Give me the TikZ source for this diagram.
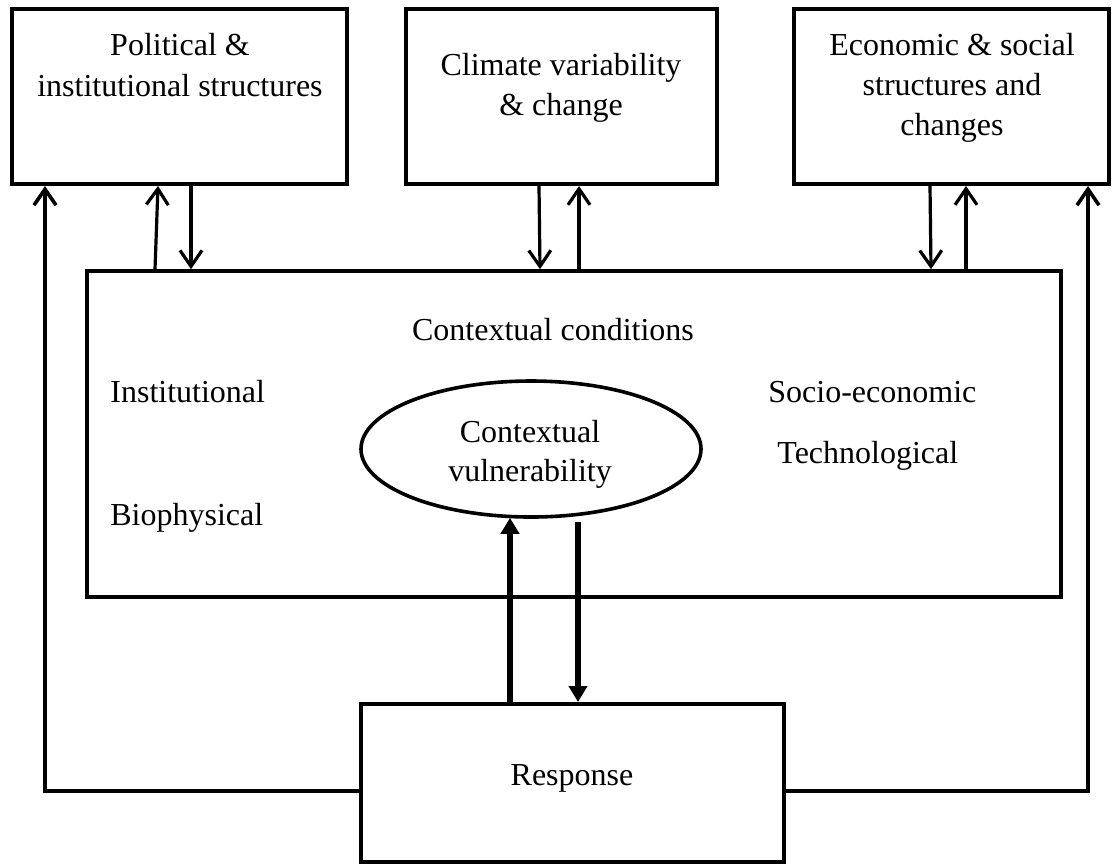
\documentclass[tikz,border=0pt]{standalone}
\usepackage{fontspec}
\setmainfont{Liberation Serif}
\usetikzlibrary{arrows.meta,calc,shapes.geometric}
\begin{document}
\begin{tikzpicture}[x=0.5pt,y=-0.5pt,
  box/.style={draw, line width=2pt, inner sep=0pt},
  txt/.style={inner sep=0pt, font=\fontsize{16}{20}\selectfont},
  thinarr/.style={line width=1.6pt, -{Straight Barb[length=8pt,width=11pt]}},
  thickarr/.style={line width=3pt, -{Triangle[length=8pt,width=9pt]}},
  loopline/.style={line width=1.8pt, -{Straight Barb[length=8pt,width=11pt]}}]
\useasboundingbox (0,0) rectangle (1112,864);
% boxes
\node[box, minimum width=167.5pt, minimum height=87.5pt] (pol) at (179.5,96.5) {};
\node[box, minimum width=155.5pt, minimum height=87.5pt] (clim) at (561.5,96.5) {};
\node[box, minimum width=157.5pt, minimum height=87.5pt] (eco) at (951.5,96.5) {};
\node[box, line width=1.8pt, minimum width=487pt, minimum height=163pt] (ctx) at (574,434) {};
\node[draw, ellipse, line width=1.8pt, inner sep=0pt, minimum width=170pt, minimum height=68pt] (ell) at (531,449) {};
\node[box, minimum width=211.5pt, minimum height=79pt] (resp) at (572.5,783) {};
% texts
\node[txt, anchor=base] (pol1) at (180,55) {Political \&};
\node[txt, anchor=base] (pol2) at (180,96) {institutional structures};
\node[txt, anchor=base] (clim1) at (561,75) {Climate variability};
\node[txt, anchor=base] (clim2) at (561,115) {\& change};
\node[txt, anchor=base] (eco1) at (952,55) {Economic \& social};
\node[txt, anchor=base] (eco2) at (952,95) {structures and};
\node[txt, anchor=base] (eco3) at (952,135) {changes};
\node[txt, anchor=base] (ctxt) at (553,340) {Contextual conditions};
\node[txt, anchor=base west] (inst) at (110,402) {Institutional};
\node[txt, anchor=base west] (bio) at (110,525) {Biophysical};
\node[txt, anchor=base west] (soc) at (768,402) {Socio-economic};
\node[txt, anchor=base west] (tech) at (777,463) {Technological};
\node[txt, anchor=base] (ell1) at (530,442) {Contextual};
\node[txt, anchor=base] (ell2) at (530,481) {vulnerability};
\node[txt, anchor=base] (resptxt) at (572,785) {Response};
% x positions
\coordinate (xa) at (155,0); \coordinate (xb) at (158,0); \coordinate (xc) at (191,0);
\coordinate (xd) at (539,0); \coordinate (xe) at (540,0); \coordinate (xf) at (579,0);
\coordinate (xg) at (930,0); \coordinate (xh) at (931,0); \coordinate (xi) at (966,0);
\coordinate (xl) at (45,0); \coordinate (xr) at (1088,0);
\coordinate (xu) at (510,0); \coordinate (xw) at (578,0);
% thin arrows
\draw[thinarr] (ctx.north -| xa) -- (pol.south -| xb);
\draw[thinarr] (pol.south -| xc) -- (ctx.north -| xc);
\draw[thinarr] (clim.south -| xd) -- (ctx.north -| xe);
\draw[thinarr] (ctx.north -| xf) -- (clim.south -| xf);
\draw[thinarr] (eco.south -| xg) -- (ctx.north -| xh);
\draw[thinarr] (ctx.north -| xi) -- (eco.south -| xi);
% loops
\coordinate (rl) at ($(resp.west)+(0,8)$);
\coordinate (rr) at ($(resp.east)+(0,8)$);
\draw[loopline] (rl) -- (rl -| xl) -- (pol.south -| xl);
\draw[loopline] (rr) -- (rr -| xr) -- (eco.south -| xr);
% thick arrows
\draw[thickarr] (resp.north -| xu) -- ($(ell.south -| xu)+(0,-1)$);
\draw[thickarr] ($(ell.south -| xw)+(0,3)$) -- (resp.north -| xw);
\end{tikzpicture}
\end{document}
